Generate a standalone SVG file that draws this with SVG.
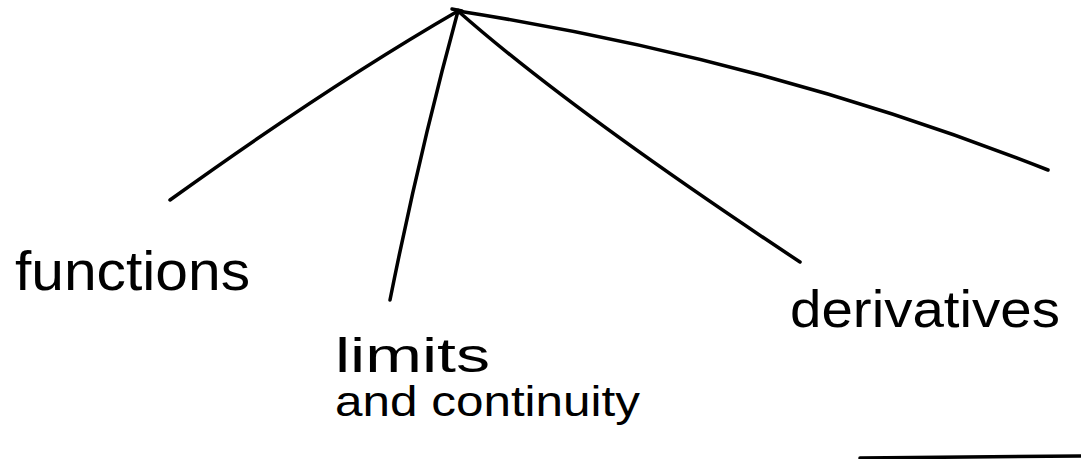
<svg xmlns="http://www.w3.org/2000/svg" width="1081" height="459" viewBox="0 0 1081 459">
<style>
.c{fill:none;stroke:#000;stroke-width:3.5;stroke-linecap:round;stroke-linejoin:round}
.t{font-family:"Liberation Sans",Arial,sans-serif;fill:#000}
</style>
<rect width="1081" height="459" fill="#fff"/>
<g id="connectors">
<path class="c" d="M452,9 L462,11"/>
<path class="c" d="M458,11 Q330,85 170,200"/>
<path class="c" d="M458,11 Q420,150 390,300"/>
<path class="c" d="M458,11 Q570,110 800,262"/>
<path class="c" d="M458,11 Q770,60 1048,170"/>
<path class="c" d="M860,458 L1081,456"/>
</g>
<g id="root"><circle cx="458" cy="11" r="2.5"/></g>
<g id="functions"><text class="t" x="15" y="290" font-size="56" textLength="235" lengthAdjust="spacingAndGlyphs">functions</text></g>
<g id="limits"><text class="t" x="335" y="372" font-size="48" textLength="155" lengthAdjust="spacingAndGlyphs">limits</text><text class="t" x="335" y="416" font-size="42" textLength="305" lengthAdjust="spacingAndGlyphs">and continuity</text></g>
<g id="derivatives"><text class="t" x="790" y="327" font-size="52" textLength="270" lengthAdjust="spacingAndGlyphs">derivatives</text></g>
</svg>
